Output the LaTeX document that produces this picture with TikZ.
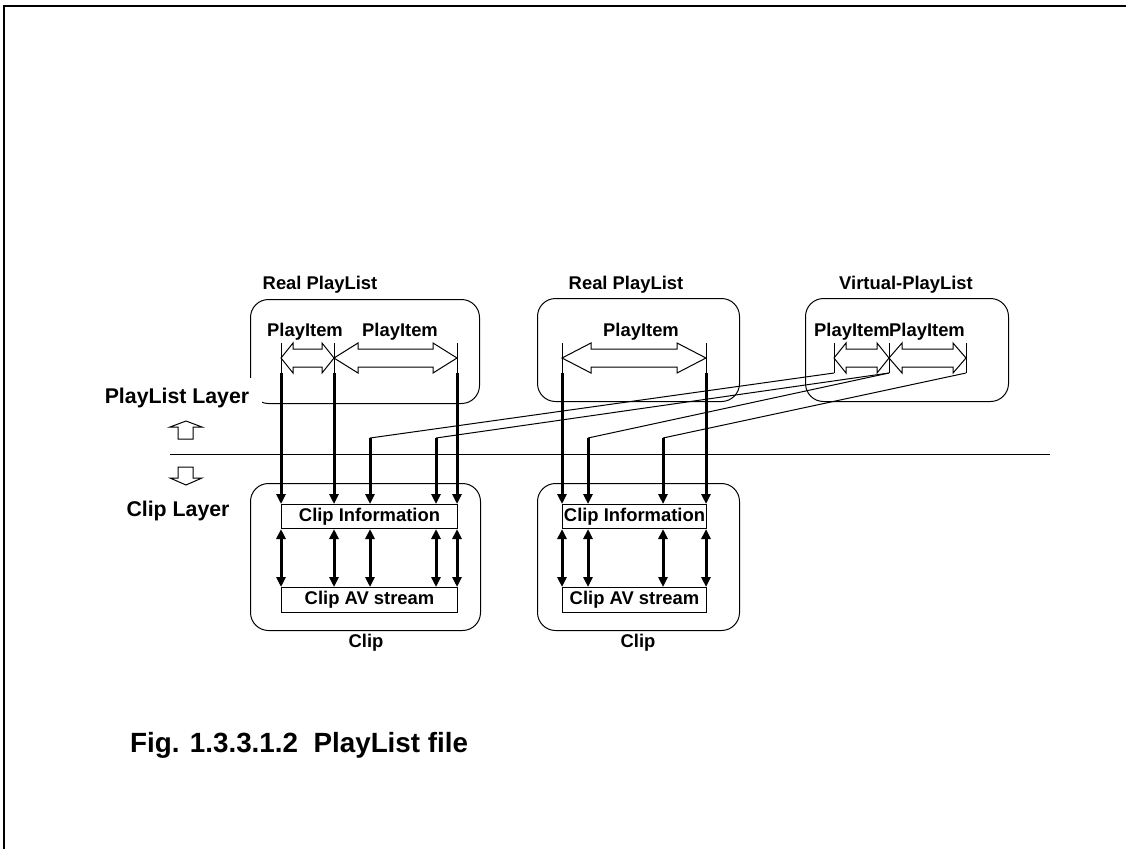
\documentclass[tikz,border=0pt]{standalone}
\usepackage{fontspec}
\setmainfont{Liberation Sans}
\usetikzlibrary{arrows.meta}
\newcommand{\hollowdbl}[4]{%
  \draw[line width=1pt, fill=white, line join=miter]
    (#1,#3) -- (#1+#4,#3-15) -- (#1+#4,#3-9) -- (#2-#4,#3-9) -- (#2-#4,#3-15)
    -- (#2,#3) -- (#2-#4,#3+15) -- (#2-#4,#3+9) -- (#1+#4,#3+9) -- (#1+#4,#3+15) -- cycle;}
\begin{document}
\begin{tikzpicture}[x=1pt,y=-1pt,
  lbl/.style={font=\fontsize{18.4}{22}\selectfont\bfseries, inner sep=0},
  layerlbl/.style={font=\fontsize{21.3}{25}\selectfont\bfseries, inner sep=0},
  thinline/.style={line width=1pt},
  grp/.style={draw, line width=1pt, rounded corners=18pt, inner sep=0, anchor=north west},
  cbox/.style={draw, line width=1pt, fill=white, inner sep=0, anchor=north west,
               font=\fontsize{18.4}{22}\selectfont\bfseries},
  thickarr/.style={line width=3pt, -{Triangle[length=10pt,width=9pt]}},
  thickdbl/.style={line width=3pt, {Triangle[length=10pt,width=9pt]}-{Triangle[length=10pt,width=9pt]}},
  thickln/.style={line width=3pt},
  layerarrow/.style={draw, line width=1pt, fill=white, line join=miter},
]
\useasboundingbox (0,0) rectangle (1126,849);
% page frame
\draw[line width=2pt] (1126,6) -- (4,6) -- (4,849);

% ---------- group boxes ----------
\node[grp, minimum width=229pt, minimum height=104pt] (rpl1) at (250,299) {};
\node[grp, minimum width=202pt, minimum height=103pt] (rpl2) at (537,298) {};
\node[grp, minimum width=203pt, minimum height=103pt] (vpl) at (805,298) {};
\node[grp, minimum width=230pt, minimum height=147pt] (clip1) at (250,483) {};
\node[grp, minimum width=202pt, minimum height=147pt] (clip2) at (537,483) {};

% group labels
\node[lbl] (rpl1lbl) at (320,285) {Real PlayList};
\node[lbl] (rpl2lbl) at (626,285) {Real PlayList};
\node[lbl] (vpllbl) at (906,285) {Virtual-PlayList};
\node[lbl] (clip1lbl) at (366,643) {Clip};
\node[lbl] (clip2lbl) at (638,643) {Clip};

% PlayItem labels
\node[lbl] (pi1) at (305,332) {PlayItem};
\node[lbl] (pi2) at (400,332) {PlayItem};
\node[lbl] (pi3) at (641,332) {PlayItem};
\node[lbl] (pi4) at (852,332) {PlayItem};
\node[lbl] (pi5) at (927,332) {PlayItem};

% hollow double arrows
\hollowdbl{281}{334}{358}{12}
\hollowdbl{334}{457}{358}{24}
\hollowdbl{562}{706}{358}{29}
\hollowdbl{834}{889}{358}{12}
\hollowdbl{889}{966}{358}{13}

% tick coordinates (top / bottom)
\foreach \n/\x in {a/281,b/334,c/457,d/562,e/706,f/834,g/889,h/966}{
  \coordinate (\n t) at (\x,343);
  \coordinate (\n b) at (\x,373);
  \draw[thinline] (\n t) -- (\n b);
}

% layer labels (white background hides the box corner)
\node[layerlbl, fill=white, minimum width=170pt, minimum height=40pt] (pllayer) at (177,398) {PlayList Layer};
\node[layerlbl] (cllayer) at (178,511) {Clip Layer};

% separator line
\coordinate (sepL) at (170,454);
\coordinate (sepR) at (1050,454);
\draw[thinline] (sepL) -- (sepR);

% layer arrows
\draw[layerarrow] (186,421) -- (202,427) -- (193,427) -- (193,439) -- (178,439) -- (178,427) -- (170,427) -- cycle;
\draw[layerarrow] (186,485) -- (202,478) -- (193,478) -- (193,467) -- (178,467) -- (178,478) -- (170,478) -- cycle;

% clip inner boxes
\node[cbox, minimum width=176pt, minimum height=24pt] (ci1) at (281,504) {Clip Information};
\node[cbox, minimum width=176pt, minimum height=25pt] (av1) at (281,587) {Clip AV stream};
\node[cbox, minimum width=144pt, minimum height=24pt] (ci2) at (562,504) {Clip Information};
\node[cbox, minimum width=144pt, minimum height=25pt] (av2) at (562,587) {Clip AV stream};

% bend points for virtual playlist references
\coordinate (k1) at (370,438);
\coordinate (k2) at (436,438);
\coordinate (k3) at (588,438);
\coordinate (k4) at (663,438);
\draw[thinline] (fb) -- (k1);
\draw[thinline] (gb) -- (k2);
\draw[thinline] (gb) -- (k3);
\draw[thinline] (hb) -- (k4);

% thick arrows to Clip Information
\foreach \p in {ab,bb,cb,k1,k2}{
  \draw[thickarr] (\p) -- (\p |- ci1.north);
  \draw[thickdbl] (\p |- ci1.south) -- (\p |- av1.north);
}
\foreach \p in {db,eb,k3,k4}{
  \draw[thickarr] (\p) -- (\p |- ci2.north);
  \draw[thickdbl] (\p |- ci2.south) -- (\p |- av2.north);
}

% caption
\node[font=\fontsize{27.8}{32}\selectfont\bfseries, inner sep=0, anchor=west] (cap) at (130,745) {Fig. 1.3.3.1.2\ \ PlayList file};
\end{tikzpicture}
\end{document}
